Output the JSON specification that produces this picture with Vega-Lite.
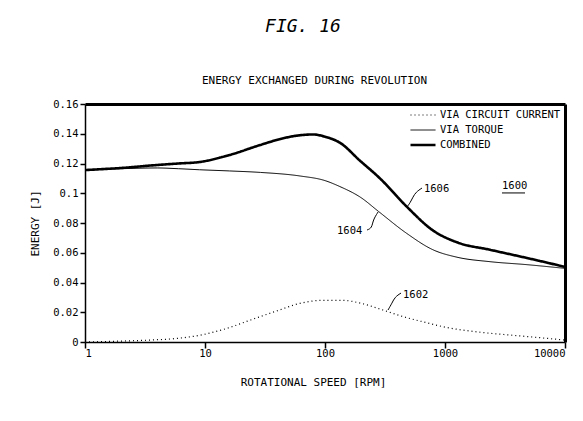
{
  "$schema": "https://vega.github.io/schema/vega-lite/v6.json",
  "width": 480,
  "height": 238,
  "autosize": {"type": "none"},
  "padding": {"left": 85, "top": 104, "right": 18, "bottom": 79},
  "background": "white",
  "config": {
    "view": {"stroke": null},
    "font": "DejaVu Sans Mono",
    "axis": {"labelFont": "DejaVu Sans Mono", "titleFont": "DejaVu Sans Mono", "labelColor": "black", "titleColor": "black", "domainColor": "black", "tickColor": "black", "titleFontWeight": "normal", "labelFontSize": 10.5, "titleFontSize": 11, "grid": false},
    "legend": {"labelFont": "DejaVu Sans Mono", "labelFontSize": 10.5, "labelColor": "black"}
  },
  "title": {"text": "FIG. 16", "font": "DejaVu Sans Mono", "fontStyle": "italic", "fontSize": 18, "fontWeight": "normal", "color": "black", "anchor": "middle", "dx": -22, "offset": 38},
  "datasets": {
    "curves": [
      {"series": "COMBINED", "rpm": 1, "value": 0.1156},
      {"series": "COMBINED", "rpm": 2, "value": 0.117},
      {"series": "COMBINED", "rpm": 4, "value": 0.119},
      {"series": "COMBINED", "rpm": 6, "value": 0.12},
      {"series": "COMBINED", "rpm": 9, "value": 0.121},
      {"series": "COMBINED", "rpm": 16, "value": 0.1257},
      {"series": "COMBINED", "rpm": 29, "value": 0.1325},
      {"series": "COMBINED", "rpm": 45, "value": 0.137},
      {"series": "COMBINED", "rpm": 62, "value": 0.139},
      {"series": "COMBINED", "rpm": 80, "value": 0.1395},
      {"series": "COMBINED", "rpm": 100, "value": 0.138},
      {"series": "COMBINED", "rpm": 133, "value": 0.134},
      {"series": "COMBINED", "rpm": 195, "value": 0.122},
      {"series": "COMBINED", "rpm": 287, "value": 0.11},
      {"series": "COMBINED", "rpm": 480, "value": 0.091},
      {"series": "COMBINED", "rpm": 794, "value": 0.075},
      {"series": "COMBINED", "rpm": 1260, "value": 0.067},
      {"series": "COMBINED", "rpm": 2370, "value": 0.062},
      {"series": "COMBINED", "rpm": 4800, "value": 0.0565},
      {"series": "COMBINED", "rpm": 10000, "value": 0.0505},
      {"series": "VIA TORQUE", "rpm": 1, "value": 0.1156},
      {"series": "VIA TORQUE", "rpm": 2, "value": 0.1165},
      {"series": "VIA TORQUE", "rpm": 4, "value": 0.117},
      {"series": "VIA TORQUE", "rpm": 6, "value": 0.1165},
      {"series": "VIA TORQUE", "rpm": 9, "value": 0.1158},
      {"series": "VIA TORQUE", "rpm": 16, "value": 0.115},
      {"series": "VIA TORQUE", "rpm": 29, "value": 0.114},
      {"series": "VIA TORQUE", "rpm": 62, "value": 0.1116},
      {"series": "VIA TORQUE", "rpm": 100, "value": 0.1085},
      {"series": "VIA TORQUE", "rpm": 133, "value": 0.1045},
      {"series": "VIA TORQUE", "rpm": 200, "value": 0.097},
      {"series": "VIA TORQUE", "rpm": 277, "value": 0.088},
      {"series": "VIA TORQUE", "rpm": 480, "value": 0.073},
      {"series": "VIA TORQUE", "rpm": 794, "value": 0.062},
      {"series": "VIA TORQUE", "rpm": 1260, "value": 0.057},
      {"series": "VIA TORQUE", "rpm": 2370, "value": 0.054},
      {"series": "VIA TORQUE", "rpm": 4800, "value": 0.052},
      {"series": "VIA TORQUE", "rpm": 10000, "value": 0.0495},
      {"series": "VIA CIRCUIT CURRENT", "rpm": 1, "value": 0.0},
      {"series": "VIA CIRCUIT CURRENT", "rpm": 2, "value": 0.0006},
      {"series": "VIA CIRCUIT CURRENT", "rpm": 3.5, "value": 0.0013},
      {"series": "VIA CIRCUIT CURRENT", "rpm": 6, "value": 0.0025},
      {"series": "VIA CIRCUIT CURRENT", "rpm": 9, "value": 0.0045},
      {"series": "VIA CIRCUIT CURRENT", "rpm": 15, "value": 0.009},
      {"series": "VIA CIRCUIT CURRENT", "rpm": 24, "value": 0.0148},
      {"series": "VIA CIRCUIT CURRENT", "rpm": 40, "value": 0.021},
      {"series": "VIA CIRCUIT CURRENT", "rpm": 62, "value": 0.026},
      {"series": "VIA CIRCUIT CURRENT", "rpm": 96, "value": 0.028},
      {"series": "VIA CIRCUIT CURRENT", "rpm": 140, "value": 0.028},
      {"series": "VIA CIRCUIT CURRENT", "rpm": 200, "value": 0.026},
      {"series": "VIA CIRCUIT CURRENT", "rpm": 304, "value": 0.0215},
      {"series": "VIA CIRCUIT CURRENT", "rpm": 450, "value": 0.017},
      {"series": "VIA CIRCUIT CURRENT", "rpm": 700, "value": 0.013},
      {"series": "VIA CIRCUIT CURRENT", "rpm": 1000, "value": 0.01},
      {"series": "VIA CIRCUIT CURRENT", "rpm": 2000, "value": 0.0065},
      {"series": "VIA CIRCUIT CURRENT", "rpm": 3700, "value": 0.0045},
      {"series": "VIA CIRCUIT CURRENT", "rpm": 6000, "value": 0.003},
      {"series": "VIA CIRCUIT CURRENT", "rpm": 10000, "value": 0.0013}
    ],
    "labels": [
      {"label": "1606", "rpm": 668, "value": 0.1029},
      {"label": "1604", "rpm": 126, "value": 0.0746},
      {"label": "1602", "rpm": 447, "value": 0.0316},
      {"label": "1600", "rpm": 2985, "value": 0.1049}
    ],
    "leaders": [
      {"id": "1606", "order": 1, "rpm": 643, "value": 0.1035},
      {"id": "1606", "order": 2, "rpm": 573, "value": 0.1008},
      {"id": "1606", "order": 3, "rpm": 541, "value": 0.0975},
      {"id": "1606", "order": 4, "rpm": 511, "value": 0.0934},
      {"id": "1606", "order": 5, "rpm": 482, "value": 0.0908},
      {"id": "1604", "order": 1, "rpm": 224, "value": 0.0753},
      {"id": "1604", "order": 2, "rpm": 246, "value": 0.0766},
      {"id": "1604", "order": 3, "rpm": 251, "value": 0.082},
      {"id": "1604", "order": 4, "rpm": 277, "value": 0.0874},
      {"id": "1602", "order": 1, "rpm": 430, "value": 0.0329},
      {"id": "1602", "order": 2, "rpm": 383, "value": 0.0303},
      {"id": "1602", "order": 3, "rpm": 362, "value": 0.0262},
      {"id": "1602", "order": 4, "rpm": 335, "value": 0.0215}
    ],
    "underline": [
      {"rpm": 2985, "rpm2": 4642, "value": 0.1002}
    ]
  },
  "layer": [
    {
      "data": {"name": "curves"},
      "mark": {"type": "line", "interpolate": "monotone", "color": "black"},
      "encoding": {
        "x": {"field": "rpm", "type": "quantitative", "scale": {"type": "log", "domain": [1, 10000], "nice": false},
          "axis": {"orient": "bottom", "values": [1, 10, 100, 1000, 10000], "format": "d", "title": "ROTATIONAL SPEED [RPM]", "tickSize": 6, "labelPadding": 0, "titlePadding": 18, "titleX": 228, "domainWidth": 1.5, "tickWidth": 1.5}},
        "y": {"field": "value", "type": "quantitative", "scale": {"domain": [0, 0.16], "nice": false, "zero": true},
          "axis": {"orient": "left", "values": [0, 0.02, 0.04, 0.06, 0.08, 0.1, 0.12, 0.14, 0.16], "format": "~g", "title": "ENERGY [J]", "tickSize": 5, "labelPadding": 2, "titlePadding": 12, "domainWidth": 1.5, "tickWidth": 1.5}},
        "strokeDash": {"field": "series", "type": "ordinal", "scale": {"type": "ordinal", "domain": ["VIA CIRCUIT CURRENT", "VIA TORQUE", "COMBINED"], "range": [[1, 3], [1, 0], [1, 0]]},
          "legend": {"title": null, "orient": "top-right", "offset": 4, "symbolType": "stroke", "symbolSize": 625, "symbolStrokeColor": "black", "clipHeight": 14, "rowPadding": 1, "labelOffset": 3, "padding": 0}},
        "strokeWidth": {"field": "series", "type": "ordinal", "scale": {"type": "ordinal", "domain": ["VIA CIRCUIT CURRENT", "VIA TORQUE", "COMBINED"], "range": [1.2, 1, 2.6]},
          "legend": {"title": null, "orient": "top-right", "offset": 4, "symbolType": "stroke", "symbolSize": 625, "symbolStrokeColor": "black", "clipHeight": 14, "rowPadding": 1, "labelOffset": 3, "padding": 0}}
      }
    },
    {
      "data": {"name": "labels"},
      "mark": {"type": "text", "align": "left", "baseline": "middle", "fontSize": 10.5, "color": "black", "font": "DejaVu Sans Mono"},
      "encoding": {
        "x": {"field": "rpm", "type": "quantitative", "scale": {"type": "log", "domain": [1, 10000], "nice": false},
          "axis": {"orient": "top", "labels": false, "ticks": false, "domainWidth": 3, "title": "ENERGY EXCHANGED DURING REVOLUTION", "titlePadding": 19, "titleX": 229}},
        "y": {"field": "value", "type": "quantitative", "scale": {"domain": [0, 0.16], "nice": false},
          "axis": {"orient": "right", "labels": false, "ticks": false, "domainWidth": 3, "title": null}},
        "text": {"field": "label"}
      }
    },
    {
      "data": {"name": "leaders"},
      "mark": {"type": "line", "interpolate": "basis", "color": "black", "strokeWidth": 1},
      "encoding": {
        "x": {"field": "rpm", "type": "quantitative", "axis": null},
        "y": {"field": "value", "type": "quantitative", "axis": null},
        "detail": {"field": "id"},
        "order": {"field": "order"}
      }
    },
    {
      "data": {"name": "underline"},
      "mark": {"type": "rule", "color": "black", "strokeWidth": 1},
      "encoding": {
        "x": {"field": "rpm", "type": "quantitative", "axis": null},
        "x2": {"field": "rpm2"},
        "y": {"field": "value", "type": "quantitative", "axis": null}
      }
    }
  ],
  "resolve": {"axis": {"x": "independent", "y": "independent"}}
}
